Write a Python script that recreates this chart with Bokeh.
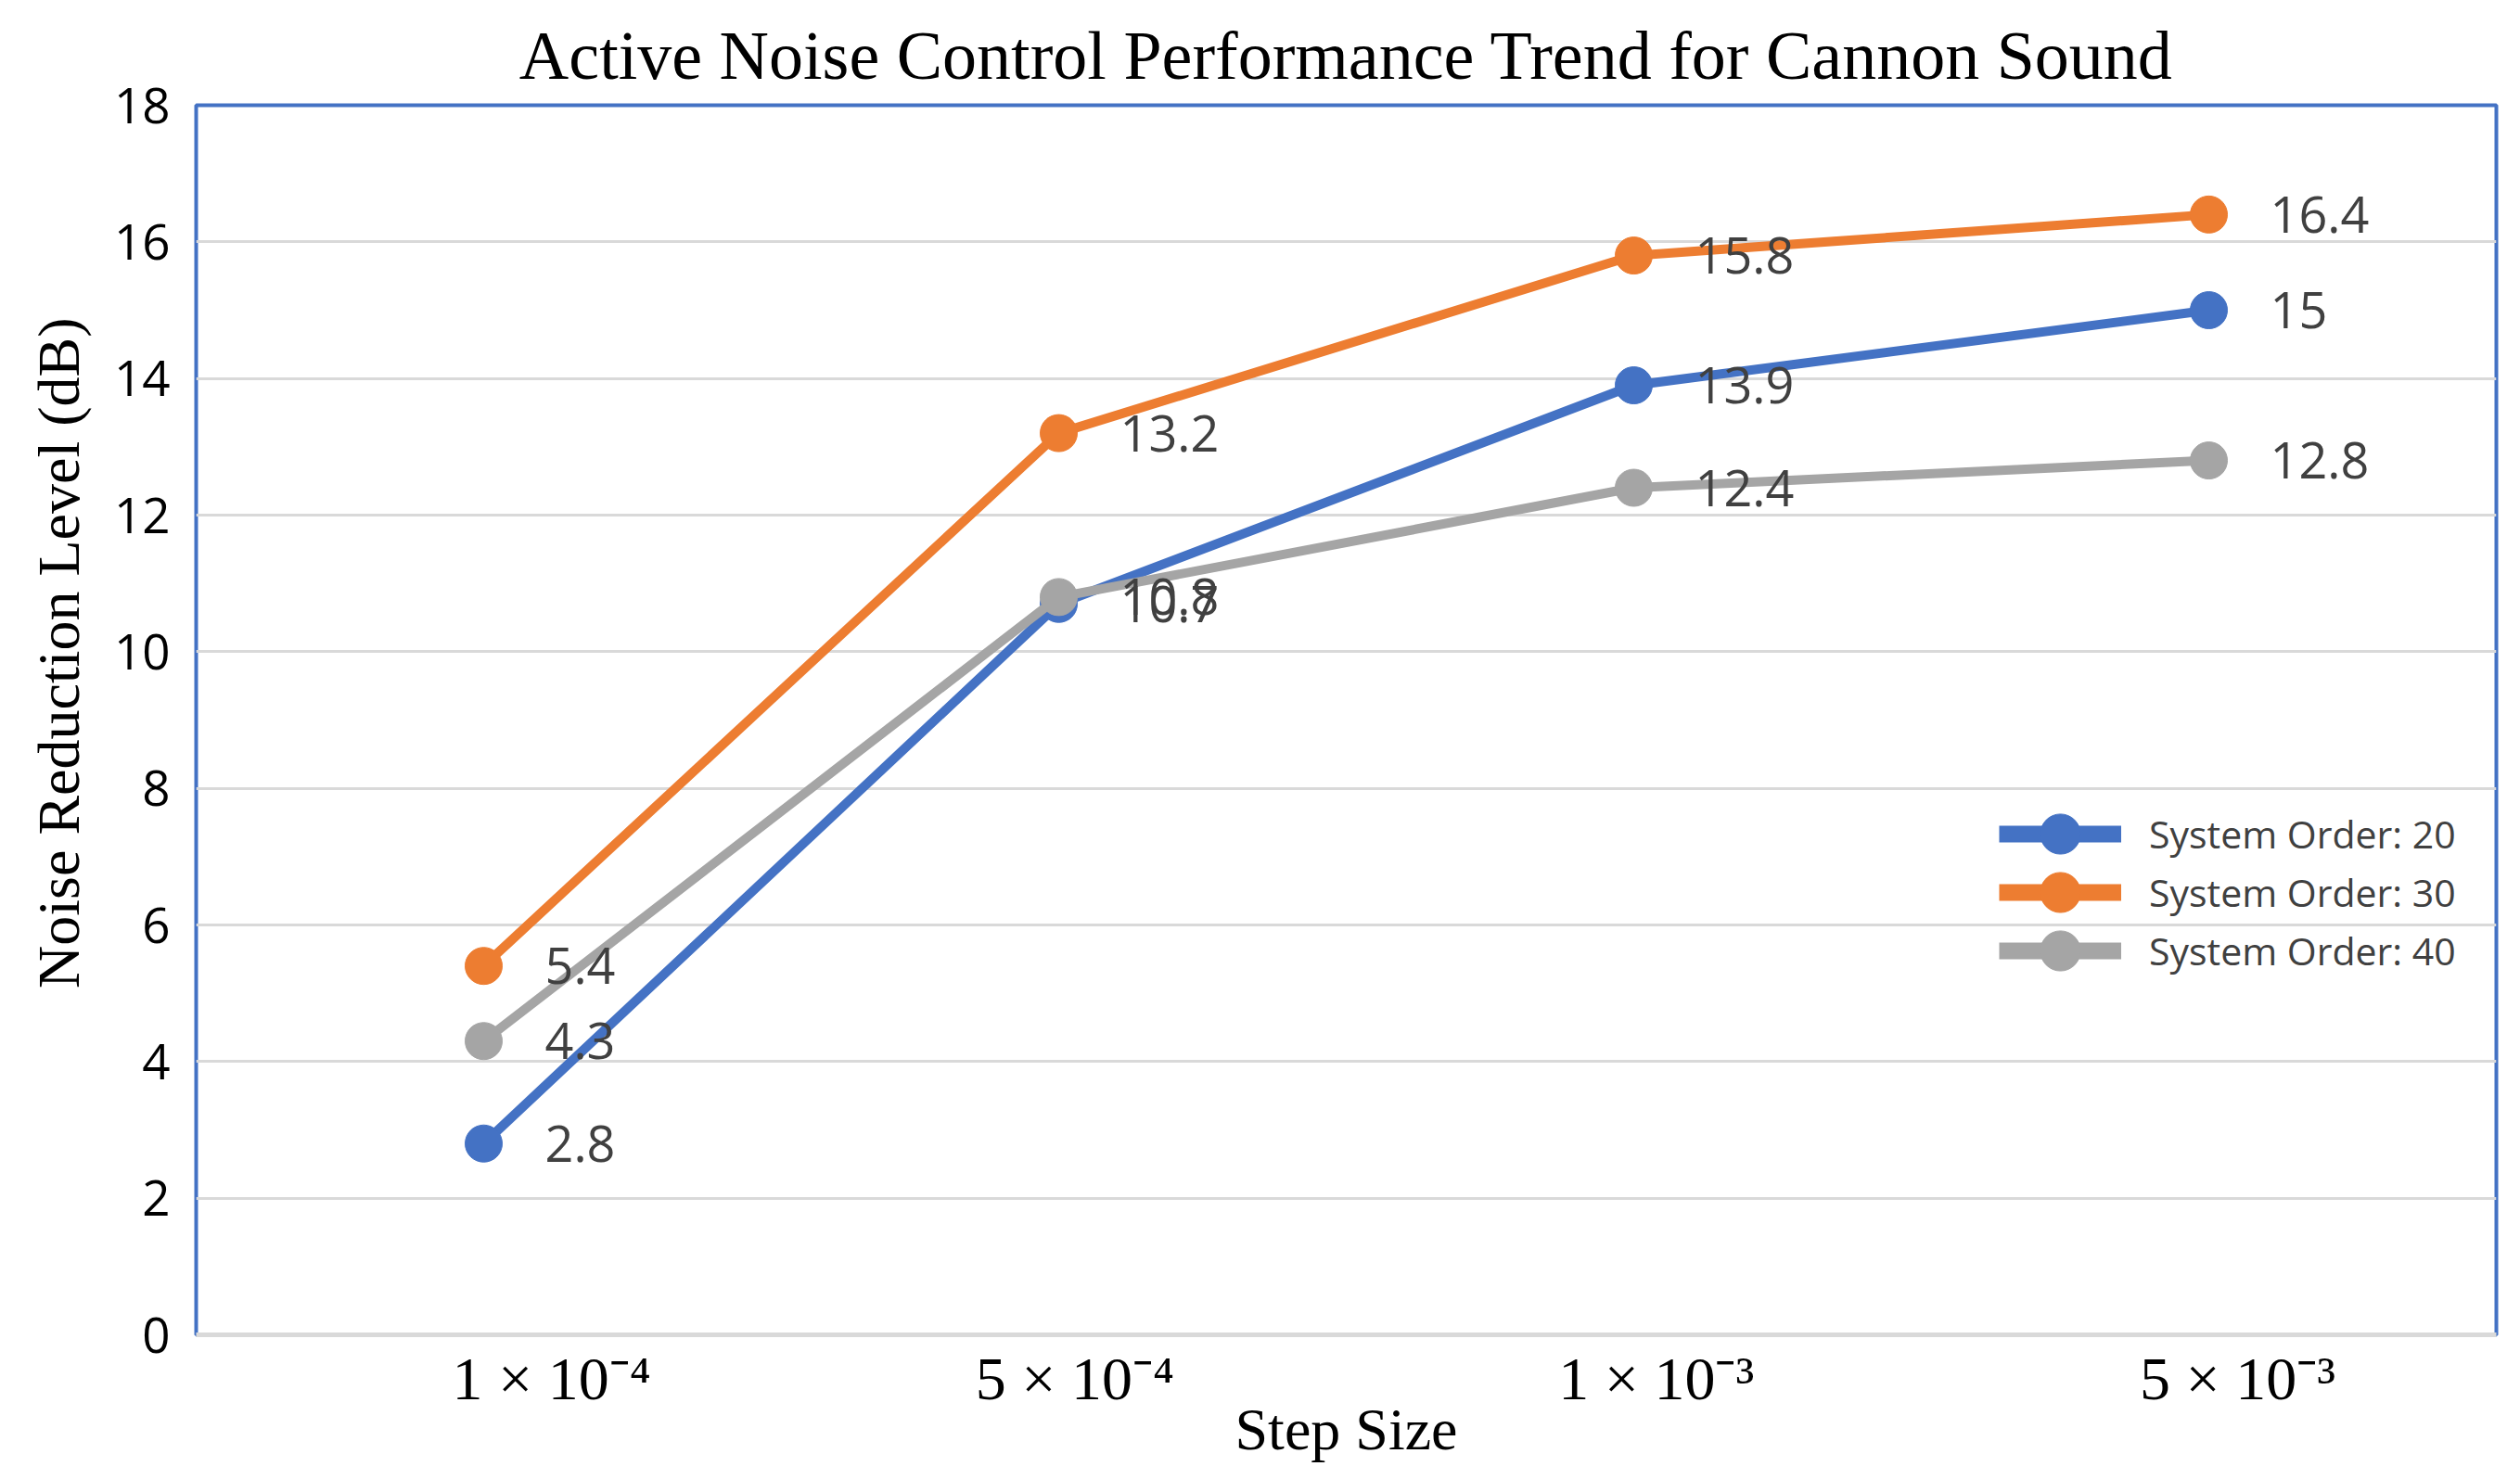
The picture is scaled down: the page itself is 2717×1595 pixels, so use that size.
from bokeh.plotting import figure
from bokeh.models import (Range1d, FixedTicker, Legend, LegendItem, Title,
                          ColumnDataSource, LabelSet)
from bokeh.core.properties import value
from bokeh.embed import file_html
from bokeh.resources import INLINE

# ---- data ----
step_labels = ["1 × 10⁻⁴", "5 × 10⁻⁴", "1 × 10⁻³", "5 × 10⁻³"]
series_names = ["System Order: 20", "System Order: 30", "System Order: 40"]
order20 = [2.8, 10.7, 13.9, 15.0]
order30 = [5.4, 13.2, 15.8, 16.4]
order40 = [4.3, 10.8, 12.4, 12.8]
y_ticks = [0, 2, 4, 6, 8, 10, 12, 14, 16, 18]

# ---- style ----
colors = ["#4472C4", "#ED7D31", "#A5A5A5"]
label_shift = [0.118, 0.028, 0.039, 0.05]   # tick label offsets (category units)
legend_bottoms = [486, 423, 360]            # px from frame bottom, per legend row

xs = [i + 0.5 for i in range(len(step_labels))]
tick_pos = [round(x + s, 3) for x, s in zip(xs, label_shift)]

p = figure(width=2701, height=1579, x_range=Range1d(0, len(step_labels)),
           y_range=Range1d(0, 18), output_backend="svg", toolbar_location=None,
           min_border_left=211, min_border_right=10, min_border_top=113,
           min_border_bottom=139)

p.title.text = "Active Noise Control Performance Trend for Cannon Sound"
p.title.text_font = "Liberation Serif"
p.title.text_font_size = "74px"
p.title.text_font_style = "normal"
p.title.text_color = "black"
p.title.align = "center"
p.title.standoff = 26

p.outline_line_color = "#4472C4"
p.outline_line_width = 4
p.background_fill_color = "white"

# x axis
p.xaxis.ticker = FixedTicker(ticks=tick_pos)
p.xaxis.major_label_overrides = {t: lab for t, lab in zip(tick_pos, step_labels)}
p.xaxis.major_tick_line_color = None
p.xaxis.minor_tick_line_color = None
p.xaxis.axis_line_color = "#D9D9D9"
p.xaxis.axis_line_width = 5
p.xaxis.major_label_text_font = "Liberation Serif"
p.xaxis.major_label_text_font_size = "66px"
p.xaxis.major_label_text_color = "black"
p.xaxis.major_label_standoff = 4
p.xaxis.axis_label = "Step Size"
p.xaxis.axis_label_text_font = "Liberation Serif"
p.xaxis.axis_label_text_font_size = "64px"
p.xaxis.axis_label_text_font_style = "normal"
p.xaxis.axis_label_text_color = "black"
p.xaxis.axis_label_standoff = -20

# y axis
p.yaxis.ticker = FixedTicker(ticks=y_ticks)
p.yaxis.major_tick_line_color = None
p.yaxis.minor_tick_line_color = None
p.yaxis.axis_line_color = None
p.yaxis.major_label_text_font = "Open Sans"
p.yaxis.major_label_text_font_size = "53px"
p.yaxis.major_label_text_color = "black"
p.yaxis.major_label_standoff = 22

p.xgrid.grid_line_color = None
p.ygrid.grid_line_color = "#D9D9D9"
p.ygrid.grid_line_width = 3

ylab = Title(text="Noise Reduction Level (dB)", align="right",
             text_font="Liberation Serif", text_font_size="64px",
             text_font_style="normal", text_color="black",
             offset=229, standoff=42)
p.add_layout(ylab, "left")

label_x, label_y, label_t = [], [], []
for name, vals, col, lb in zip(series_names, [order20, order30, order40],
                               colors, legend_bottoms):
    src = ColumnDataSource(dict(x=xs, y=vals))
    p.line("x", "y", source=src, line_color=col, line_width=10)
    p.scatter("x", "y", source=src, size=40, fill_color=col, line_color=col)
    # thicker legend-only glyphs (hidden on the plot)
    lg_ln = p.line("x", "y", source=src, line_color=col, line_width=18, visible=False)
    lg_sc = p.scatter("x", "y", source=src, size=40, fill_color=col,
                      line_color=col, visible=False)
    leg = Legend(items=[LegendItem(label=name, renderers=[lg_ln, lg_sc])],
                 location=(1944, lb))
    leg.glyph_width = 132
    leg.glyph_height = 108
    leg.label_text_font = "Open Sans"
    leg.label_text_font_size = "41px"
    leg.label_text_color = "#404040"
    leg.label_standoff = 30
    leg.padding = 10
    leg.background_fill_alpha = 0
    leg.border_line_color = None
    leg.inactive_fill_alpha = 0
    p.add_layout(leg, "center")
    label_x += xs
    label_y += vals
    label_t += [f"{v:g}" for v in vals]

lsrc = ColumnDataSource(dict(x=label_x, y=label_y, t=label_t))
labels = LabelSet(x="x", y="y", text="t", source=lsrc, x_offset=66, y_offset=0,
                  text_baseline="middle", text_align="left",
                  text_font=value("Open Sans"), text_font_size=value("54px"),
                  text_color="#404040")
p.add_layout(labels)

open("out.html", "w").write(file_html(p, INLINE))
